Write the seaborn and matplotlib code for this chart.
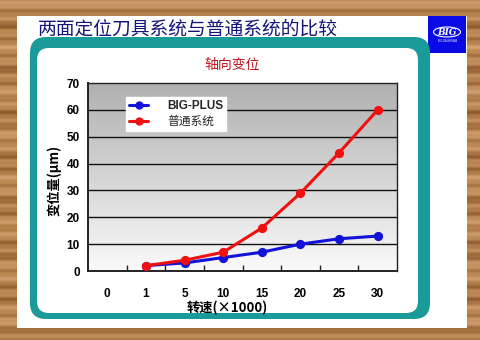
import numpy as np
import pandas as pd
import matplotlib
matplotlib.use("Agg")
import matplotlib.pyplot as plt
from matplotlib.patches import FancyBboxPatch, Rectangle, Ellipse
from matplotlib.lines import Line2D
from matplotlib.colors import LinearSegmentedColormap
import seaborn as sns

# ---- data ----
categories = ["0", "1", "5", "10", "15", "20", "25", "30"]
speeds = ["1", "5", "10", "15", "20", "25", "30"]
big_plus = [2, 3, 5, 7, 10, 12, 13]
normal = [2, 4, 7, 16, 29, 44, 60]
series_names = ["BIG-PLUS", "普通系统"]
yticks = [0, 10, 20, 30, 40, 50, 60, 70]

sns.set_theme(style="white")
plt.rcParams['font.family'] = ['Noto Sans CJK SC', 'DejaVu Sans']

df = pd.DataFrame({
    "speed": speeds * 2,
    "disp": big_plus + normal,
    "series": [series_names[0]] * len(speeds) + [series_names[1]] * len(speeds),
})

W, H = 480, 340
fig = plt.figure(figsize=(4.8, 3.4), dpi=100)

# background decoration axes in pixel coords
bg = fig.add_axes([0, 0, 1, 1], zorder=0)
bg.set_xlim(0, W)
bg.set_ylim(H, 0)
bg.axis("off")
yy = np.arange(H)
wood = 0.5 + 0.25 * np.sin(yy / 2.3) + 0.15 * np.sin(yy / 7.1 + 1.0) + 0.1 * np.sin(yy / 0.9)
wood = np.tile(wood[:, None], (1, 4))
wcmap = LinearSegmentedColormap.from_list("wood", ["#8e5a2c", "#b8844f", "#d2a272"])
bg.imshow(wood, cmap=wcmap, extent=[0, W, H, 0], aspect="auto", zorder=0)

# white slide
bg.add_patch(Rectangle((17, 16), 450, 312, facecolor="white", edgecolor="none", zorder=1))
# blue logo
bg.add_patch(Rectangle((428, 16), 38, 37, facecolor="#0a0ae6", edgecolor="none", zorder=2))
bg.add_patch(Ellipse((447, 32), 27, 10, facecolor="none", edgecolor="white", lw=0.8, zorder=3))
bg.text(447, 32.5, "BIG", color="white", fontsize=6.5, fontweight="bold", fontstyle="italic",
        ha="center", va="center", family="DejaVu Serif", zorder=4)
bg.text(447, 41, "BIG DAISHOWA", color="white", fontsize=1.8, ha="center", va="center",
        family="DejaVu Sans", zorder=4)

# teal frame
teal = "#1a9a98"
bg.add_patch(FancyBboxPatch((30, 37), 400, 282, boxstyle="round,pad=0,rounding_size=16",
                            facecolor=teal, edgecolor="none", zorder=2))
bg.add_patch(FancyBboxPatch((37, 48), 381, 265, boxstyle="round,pad=0,rounding_size=12",
                            facecolor="white", edgecolor="none", zorder=3))

# titles
bg.text(38, 29, "两面定位刀具系统与普通系统的比较", color="#14147a", fontsize=13.5,
        ha="left", va="center", zorder=5)
bg.text(232, 65, "轴向变位", color="#c0141c", fontsize=10, ha="center", va="center", zorder=5)

# main plot axes
ax = fig.add_axes([88 / W, (H - 271) / H, 309 / W, 188 / H], zorder=2)

grad = np.linspace(0, 1, 256)[:, None]
gcmap = LinearSegmentedColormap.from_list("g", ["#b0b0b0", "#fafafa"])
ax.imshow(grad, cmap=gcmap, extent=[-0.5, 7.5, 0, 70], origin="upper", aspect="auto", zorder=0)

sns.pointplot(data=df, x="speed", y="disp", hue="series", order=categories,
              hue_order=series_names, palette=["#1212d8", "#f01010"], markers="o",
              errorbar=None, linewidth=2.2, markersize=5, ax=ax, zorder=3)

ax.set_xlim(-0.5, 7.5)
ax.set_ylim(0, 70)
ax.set_yticks(yticks)
for yv in yticks[1:-1]:
    ax.axhline(yv, color="#111111", lw=1.0, zorder=1)
for s in ax.spines.values():
    s.set_color("#222222")
    s.set_linewidth(1.0)
ax.spines["bottom"].set_linewidth(1.4)
ax.spines["left"].set_linewidth(1.4)

ax.set_xticks(range(len(categories)))
ax.set_xticklabels(categories)
ax.set_xticks(np.arange(0.5, 7, 1.0), minor=True)
ax.tick_params(axis="x", which="major", length=0, pad=12)
ax.tick_params(axis="x", which="minor", length=4, direction="in", color="#222222", bottom=True, width=1)
ax.tick_params(axis="y", length=0, pad=6)
for lab in ax.get_xticklabels() + ax.get_yticklabels():
    lab.set_fontfamily("Liberation Sans")
    lab.set_fontweight("bold")
    lab.set_fontsize(8.5)
    lab.set_color("black")
ax.set_xlabel("")
ax.set_ylabel("")

# legend
if ax.get_legend():
    ax.get_legend().remove()
handles = [Line2D([], [], color="#1212d8", marker="o", lw=2.2, markersize=5),
           Line2D([], [], color="#f01010", marker="o", lw=2.2, markersize=5)]
leg = ax.legend(handles, series_names, loc="upper left", bbox_to_anchor=(0.105, 0.955),
                frameon=True, fancybox=False, framealpha=1, facecolor="white", edgecolor="white",
                fontsize=8.5, handlelength=1.6, handletextpad=1.6, borderpad=0.25, labelspacing=0.2)
leg.get_texts()[0].set_fontfamily("Liberation Sans")
leg.get_texts()[0].set_fontweight("bold")

# axis labels
bg.text(227, 308, "转速(×1000)", fontsize=9.5, fontweight="bold", ha="center", va="center",
        color="black", zorder=5, family=["Noto Sans CJK SC", "DejaVu Sans"])
bg.text(54, 180, "变位量(μm)", fontsize=9.5, fontweight="bold", ha="center", va="center",
        rotation=90, color="black", zorder=5, family=["Noto Sans CJK SC", "DejaVu Sans"])

fig.savefig("out.png", dpi=100)
